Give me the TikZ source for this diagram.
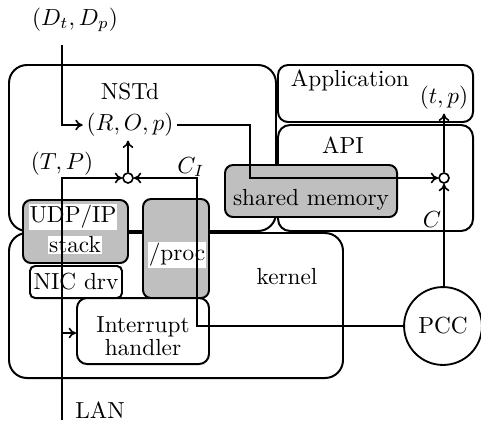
\documentclass[tikz,border=0pt]{standalone}
\usetikzlibrary{arrows.meta}
\begin{document}
\begin{tikzpicture}[x=0.43pt,y=-0.43pt,
  frame/.style 2 args={draw, line width=0.85pt, rounded corners=#1*0.43pt,
    minimum width=#2, inner sep=0pt},
  grayfill/.style={fill=black!25},
  whitefill/.style={fill=white},
  lbl/.style={inner sep=1.5pt},
  bglbl/.style={fill=white, inner sep=0.4pt},
  conn/.style={line width=0.7pt, -{To[length=3.2pt,width=4.6pt]}},
  smallc/.style={circle, draw, line width=0.7pt, fill=white, minimum size=4.3pt, inner sep=0pt},
  bigc/.style={circle, draw, line width=0.8pt, fill=white, minimum size=33.5pt, inner sep=0pt}]
\useasboundingbox (0,0) rectangle (481,422);

% outer boxes
\node[frame={18}{267*0.43pt}, minimum height=166*0.43pt] (nstd) at (142.5,148) {};
\node[frame={18}{334*0.43pt}, minimum height=145*0.43pt] (kernel) at (176,305.5) {};
\node[frame={10}{195*0.43pt}, minimum height=57*0.43pt] (app) at (375.5,93.5) {};
\node[frame={12}{195*0.43pt}, minimum height=106*0.43pt] (api) at (375.5,178) {};

% inner boxes
\node[frame={8}{105*0.43pt}, minimum height=63*0.43pt, grayfill] (udp) at (75.5,231.5) {};
\node[frame={8}{66*0.43pt}, minimum height=99*0.43pt, grayfill] (proc) at (176,248.5) {};
\node[frame={8}{172*0.43pt}, minimum height=52*0.43pt, grayfill] (shm) at (311,191) {};
\node[frame={5}{92*0.43pt}, minimum height=32*0.43pt, whitefill] (nic) at (76,282) {};
\node[frame={10}{132*0.43pt}, minimum height=66*0.43pt, whitefill] (int) at (143,331) {};

% labels
\node[lbl] (dtdp) at (75,20) {$(D_t,D_p)$};
\node[lbl] (nstdl) at (130,92) {NSTd};
\node[lbl] (rop) at (130,125) {$(R,O,p)$};
\node[lbl] (tpcap) at (62,164) {$(T,P)$};
\node[lbl] (cil) at (191,167) {$C_I$};
\node[lbl] (appl) at (350,80) {Application};
\node[lbl] (tp) at (444,98) {$(t,p)$};
\node[lbl] (apil) at (343,145) {API};
\node[lbl] (shml) at (311,200) {shared memory};
\node[lbl] (cl) at (432,220) {$C$};
\node[lbl] (kernell) at (287,277) {kernel};
\node[bglbl] (udpl) at (73,217) {UDP/IP};
\node[bglbl] (stackl) at (75,245) {stack};
\node[bglbl] (procl) at (177,255) {/proc};
\node[lbl] (nicl) at (76,282) {NIC drv};
\node[lbl, align=center] (intl) at (143,336) {Interrupt\\[-2pt]handler};
\node[lbl] (lanl) at (100,410) {LAN};

% circles
\node[smallc] (c1) at (128,178) {};
\node[smallc] (c2) at (444,178) {};
\node[bigc] (pcc) at (443,326) {PCC};

% connectors
\coordinate (dtop) at (62,45);
\coordinate (k1) at (250,125);
\coordinate (lanb) at (62,420);
\coordinate (intarr) at (62,333);
\coordinate (ci) at (197,326);

\draw[conn] (dtop) |- (rop.west);
\draw[conn] (rop.east) -- (k1) |- (c2.west);
\draw[conn] (c1.north) -- (c1.north |- rop.south);
\draw[conn] (lanb) |- (c1.west);
\draw[conn] (intarr) -- (intarr -| int.west);
\draw[conn] (pcc.west) -- (ci) |- (c1.east);
\draw[conn] (pcc.north -| c2) -- (c2.south);
\draw[conn] (c2.north) -- (c2.north |- tp.south);
\end{tikzpicture}
\end{document}
